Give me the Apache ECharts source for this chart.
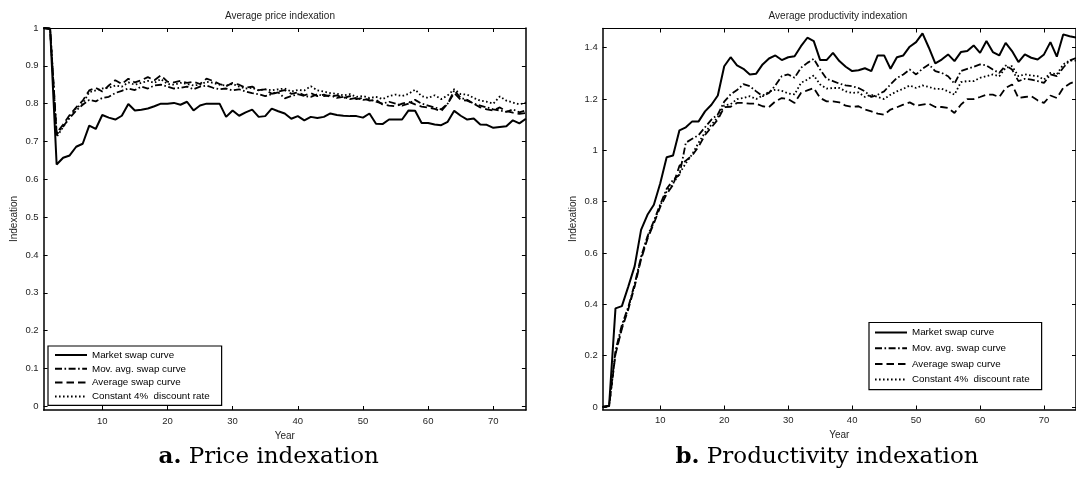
<!DOCTYPE html>
<html><head><meta charset="utf-8">
<script src="https://cdn.jsdelivr.net/npm/echarts@6/dist/echarts.min.js"></script>
<style>html,body{margin:0;padding:0;background:#fff}#c{width:1076px;height:480px}</style>
</head><body><div id="c"></div>
<script>
const years = Array.from({length: 75}, (_, i) => i + 1);
const xTicks = [10, 20, 30, 40, 50, 60, 70];
const priceTicks = [0, 0.1, 0.2, 0.3, 0.4, 0.5, 0.6, 0.7, 0.8, 0.9, 1];
const prodTicks = [0, 0.2, 0.4, 0.6, 0.8, 1, 1.2, 1.4];
const seriesNames = ['Market swap curve', 'Mov. avg. swap curve', 'Average swap curve', 'Constant 4%  discount rate'];

const priceMarket = [1.000, 0.998, 0.639, 0.657, 0.663, 0.686, 0.694, 0.742, 0.733, 0.770,
  0.763, 0.758, 0.768, 0.799, 0.782, 0.784, 0.787, 0.793, 0.800, 0.800,
  0.802, 0.797, 0.805, 0.782, 0.795, 0.800, 0.800, 0.800, 0.765, 0.782,
  0.768, 0.777, 0.784, 0.765, 0.767, 0.787, 0.780, 0.774, 0.760, 0.767,
  0.756, 0.765, 0.762, 0.765, 0.774, 0.770, 0.768, 0.767, 0.767, 0.763,
  0.774, 0.747, 0.746, 0.758, 0.758, 0.758, 0.782, 0.781, 0.749, 0.749,
  0.745, 0.743, 0.752, 0.781, 0.768, 0.758, 0.761, 0.745, 0.744, 0.736,
  0.738, 0.740, 0.756, 0.748, 0.760];
const priceMovAvg = [1.000, 0.998, 0.718, 0.740, 0.762, 0.782, 0.797, 0.810, 0.806, 0.815,
  0.818, 0.828, 0.834, 0.840, 0.836, 0.845, 0.840, 0.848, 0.850, 0.845,
  0.840, 0.842, 0.845, 0.838, 0.845, 0.848, 0.842, 0.838, 0.840, 0.835,
  0.838, 0.832, 0.828, 0.825, 0.820, 0.825, 0.830, 0.814, 0.820, 0.825,
  0.820, 0.818, 0.825, 0.820, 0.822, 0.815, 0.818, 0.812, 0.815, 0.810,
  0.812, 0.805, 0.800, 0.805, 0.800, 0.795, 0.800, 0.810, 0.800, 0.795,
  0.790, 0.785, 0.800, 0.835, 0.815, 0.810, 0.800, 0.795, 0.790, 0.785,
  0.782, 0.778, 0.785, 0.777, 0.782];
const priceAverage = [1.000, 0.998, 0.722, 0.745, 0.770, 0.790, 0.808, 0.835, 0.842, 0.832,
  0.848, 0.862, 0.852, 0.866, 0.856, 0.862, 0.870, 0.862, 0.875, 0.858,
  0.856, 0.860, 0.855, 0.858, 0.852, 0.866, 0.860, 0.852, 0.846, 0.855,
  0.850, 0.842, 0.845, 0.836, 0.838, 0.826, 0.832, 0.836, 0.826, 0.830,
  0.822, 0.828, 0.820, 0.824, 0.818, 0.822, 0.815, 0.820, 0.812, 0.815,
  0.808, 0.810, 0.798, 0.795, 0.793, 0.800, 0.805, 0.798, 0.792, 0.790,
  0.786, 0.780, 0.800, 0.828, 0.810, 0.808, 0.800, 0.790, 0.785, 0.782,
  0.790, 0.780, 0.776, 0.773, 0.775];
const priceConstant = [1.000, 0.998, 0.712, 0.738, 0.765, 0.788, 0.800, 0.830, 0.835, 0.840,
  0.842, 0.848, 0.845, 0.856, 0.850, 0.855, 0.860, 0.855, 0.865, 0.852,
  0.850, 0.855, 0.852, 0.848, 0.850, 0.858, 0.855, 0.850, 0.848, 0.852,
  0.845, 0.840, 0.842, 0.835, 0.838, 0.835, 0.838, 0.840, 0.832, 0.836,
  0.835, 0.846, 0.835, 0.832, 0.828, 0.826, 0.822, 0.825, 0.818, 0.820,
  0.815, 0.818, 0.812, 0.820, 0.824, 0.820, 0.826, 0.837, 0.820, 0.815,
  0.822, 0.812, 0.822, 0.838, 0.825, 0.824, 0.815, 0.808, 0.805, 0.800,
  0.819, 0.808, 0.803, 0.798, 0.803];

const prodMarket = [0.000, 0.004, 0.384, 0.393, 0.469, 0.549, 0.690, 0.749, 0.788, 0.872,
  0.973, 0.980, 1.078, 1.090, 1.113, 1.113, 1.152, 1.178, 1.214, 1.328,
  1.363, 1.331, 1.318, 1.296, 1.299, 1.335, 1.358, 1.370, 1.352, 1.363,
  1.367, 1.406, 1.439, 1.426, 1.352, 1.352, 1.380, 1.348, 1.326, 1.309,
  1.312, 1.320, 1.309, 1.370, 1.370, 1.318, 1.363, 1.370, 1.404, 1.422,
  1.456, 1.400, 1.339, 1.354, 1.374, 1.348, 1.383, 1.387, 1.409, 1.380,
  1.426, 1.383, 1.370, 1.419, 1.387, 1.344, 1.374, 1.361, 1.354, 1.374,
  1.422, 1.365, 1.452, 1.445, 1.440];
const prodMovAvg = [0.000, 0.004, 0.220, 0.320, 0.390, 0.480, 0.585, 0.665, 0.725, 0.790,
  0.850, 0.885, 0.905, 1.030, 1.045, 1.060, 1.090, 1.120, 1.140, 1.190,
  1.218, 1.235, 1.258, 1.250, 1.230, 1.211, 1.224, 1.253, 1.289, 1.296,
  1.283, 1.322, 1.341, 1.357, 1.315, 1.279, 1.270, 1.260, 1.253, 1.250,
  1.243, 1.230, 1.208, 1.217, 1.230, 1.257, 1.282, 1.296, 1.315, 1.296,
  1.318, 1.335, 1.309, 1.302, 1.289, 1.260, 1.309, 1.318, 1.326, 1.335,
  1.331, 1.315, 1.302, 1.331, 1.315, 1.270, 1.279, 1.276, 1.270, 1.263,
  1.296, 1.289, 1.322, 1.350, 1.360];
const prodAverage = [0.000, 0.004, 0.205, 0.305, 0.380, 0.470, 0.575, 0.655, 0.715, 0.780,
  0.830, 0.865, 0.940, 0.960, 0.980, 1.015, 1.060, 1.090, 1.120, 1.168,
  1.170, 1.185, 1.185, 1.182, 1.182, 1.172, 1.169, 1.191, 1.204, 1.200,
  1.185, 1.224, 1.234, 1.243, 1.204, 1.191, 1.191, 1.187, 1.174, 1.169,
  1.172, 1.159, 1.152, 1.143, 1.139, 1.159, 1.168, 1.178, 1.187, 1.174,
  1.178, 1.182, 1.169, 1.169, 1.165, 1.146, 1.178, 1.200, 1.200, 1.208,
  1.217, 1.217, 1.208, 1.243, 1.257, 1.204, 1.208, 1.211, 1.195, 1.185,
  1.214, 1.204, 1.243, 1.260, 1.270];
const prodConstant = [0.000, 0.004, 0.210, 0.310, 0.385, 0.475, 0.580, 0.660, 0.720, 0.785,
  0.840, 0.870, 0.910, 0.950, 0.985, 1.030, 1.070, 1.100, 1.130, 1.175,
  1.180, 1.200, 1.204, 1.211, 1.200, 1.214, 1.228, 1.237, 1.232, 1.222,
  1.218, 1.263, 1.276, 1.292, 1.257, 1.241, 1.243, 1.243, 1.230, 1.224,
  1.226, 1.208, 1.217, 1.208, 1.200, 1.217, 1.230, 1.240, 1.253, 1.243,
  1.253, 1.247, 1.240, 1.240, 1.230, 1.217, 1.266, 1.270, 1.270, 1.283,
  1.289, 1.296, 1.289, 1.322, 1.328, 1.289, 1.296, 1.292, 1.289, 1.276,
  1.302, 1.296, 1.335, 1.350, 1.350];

const priceSeries = [priceMarket, priceMovAvg, priceAverage, priceConstant];
const prodSeries = [prodMarket, prodMovAvg, prodAverage, prodConstant];

const lineTypes = ['solid', [7, 2.5, 1.6, 2.5], [7.5, 4], [1.6, 2.4]];
const lineWidths = [2, 1.8, 1.8, 1.8];
const sans = 'Liberation Sans, Arial, Helvetica, sans-serif';
const txt = '#1e1e1e';

function pairs(vals) { return years.map((y, i) => [y, vals[i]]); }

function axesFor(g, yMin, yMax, yTicks) {
  const xb = {
    type: 'value', gridIndex: g, min: 1, max: 75, position: 'bottom',
    axisLine: {show: true, onZero: false, lineStyle: {color: '#000', width: 1.5}},
    axisTick: {show: true, inside: true, length: 4, customValues: xTicks, lineStyle: {color: '#000', width: 1}},
    axisLabel: {show: true, customValues: xTicks, color: txt, fontSize: 9.5, fontFamily: sans, margin: 6},
    splitLine: {show: false},
    name: 'Year', nameLocation: 'middle', nameGap: 18,
    nameTextStyle: {color: txt, fontSize: 10, fontFamily: sans}
  };
  const xt = {
    type: 'value', gridIndex: g, min: 1, max: 75, position: 'top',
    axisLine: {show: true, onZero: false, lineStyle: {color: '#000', width: 1}},
    axisTick: {show: true, inside: true, length: 4, customValues: xTicks, lineStyle: {color: '#000', width: 1}},
    axisLabel: {show: false}, splitLine: {show: false}
  };
  const yl = {
    type: 'value', gridIndex: g, min: yMin, max: yMax, position: 'left',
    axisLine: {show: true, onZero: false, lineStyle: {color: '#000', width: 1.5}},
    axisTick: {show: true, inside: true, length: 4, customValues: yTicks, lineStyle: {color: '#000', width: 1}},
    axisLabel: {show: true, customValues: yTicks, color: txt, fontSize: 9.5, fontFamily: sans, margin: 5,
      formatter: v => String(v)},
    splitLine: {show: false},
    name: 'Indexation', nameLocation: 'middle', nameGap: 24, nameRotate: 90,
    nameTextStyle: {color: txt, fontSize: 10, fontFamily: sans}
  };
  const yr = {
    type: 'value', gridIndex: g, min: yMin, max: yMax, position: 'right',
    axisLine: {show: true, onZero: false, lineStyle: {color: '#000', width: 1.5}},
    axisTick: {show: true, inside: true, length: 4, customValues: yTicks, lineStyle: {color: '#000', width: 1}},
    axisLabel: {show: false}, splitLine: {show: false}
  };
  return {x: [xb, xt], y: [yl, yr]};
}

const a0 = axesFor(0, -0.01, 1, priceTicks);
const a1 = axesFor(1, -0.01, 1.475, prodTicks);

const series = [];
[priceSeries, prodSeries].forEach((set, g) => {
  set.forEach((vals, k) => {
    series.push({
      type: 'line', name: seriesNames[k], xAxisIndex: g * 2, yAxisIndex: g * 2,
      data: pairs(vals), symbol: 'none', silent: true, clip: true,
      lineStyle: {color: '#000', width: lineWidths[k], type: lineTypes[k]},
      itemStyle: {color: '#000'}, z: 3 + (3 - k)
    });
  });
});

function legendAt(left, top, gap, pad) {
  return {
    show: true, orient: 'vertical', left: left, top: top, data: seriesNames,
    itemWidth: 32, itemHeight: 10, itemGap: gap, padding: pad,
    borderColor: '#000', borderWidth: 1.2, backgroundColor: '#fff',
    selectedMode: false,
    itemStyle: {color: 'rgba(0,0,0,0)', borderColor: 'rgba(0,0,0,0)', borderWidth: 0, opacity: 0},
    textStyle: {color: '#000', fontSize: 9.8, fontFamily: sans, lineHeight: 10}
  };
}

const option = {
  animation: false,
  backgroundColor: '#fff',
  grid: [
    {left: 43.6, top: 28, width: 482.3, height: 382},
    {left: 602.7, top: 28.5, width: 482.7, height: 381}
  ],
  xAxis: [...a0.x, ...a1.x],
  yAxis: [...a0.y, ...a1.y],
  legend: [
    legendAt(48, 346, 3.8, [4, 12, 4, 6]),
    legendAt(869, 322.5, 5.7, [5, 12, 5, 5])
  ],
  series: series,
  graphic: [
    {type: 'text', x: 280, y: 16.5, style: {text: 'Average price indexation', fill: txt,
      font: '10px ' + sans, textAlign: 'center', textVerticalAlign: 'middle'}},
    {type: 'text', x: 838, y: 16.5, style: {text: 'Average productivity indexation', fill: txt,
      font: '10px ' + sans, textAlign: 'center', textVerticalAlign: 'middle'}},
    {type: 'text', x: 268.7, y: 457, style: {text: '{b|a.} Price indexation', fill: '#000',
      font: '23px DejaVu Serif, serif', textAlign: 'center', textVerticalAlign: 'middle',
      rich: {b: {fontWeight: 'bold', fontSize: 23, fontFamily: 'DejaVu Serif, serif'}}}},
    {type: 'text', x: 827, y: 457, style: {text: '{b|b.} Productivity indexation', fill: '#000',
      font: '23px DejaVu Serif, serif', textAlign: 'center', textVerticalAlign: 'middle',
      rich: {b: {fontWeight: 'bold', fontSize: 23, fontFamily: 'DejaVu Serif, serif'}}}}
  ]
};

const chart = echarts.init(document.getElementById('c'), null, {renderer: 'canvas'});
chart.setOption(option);
</script></body></html>
